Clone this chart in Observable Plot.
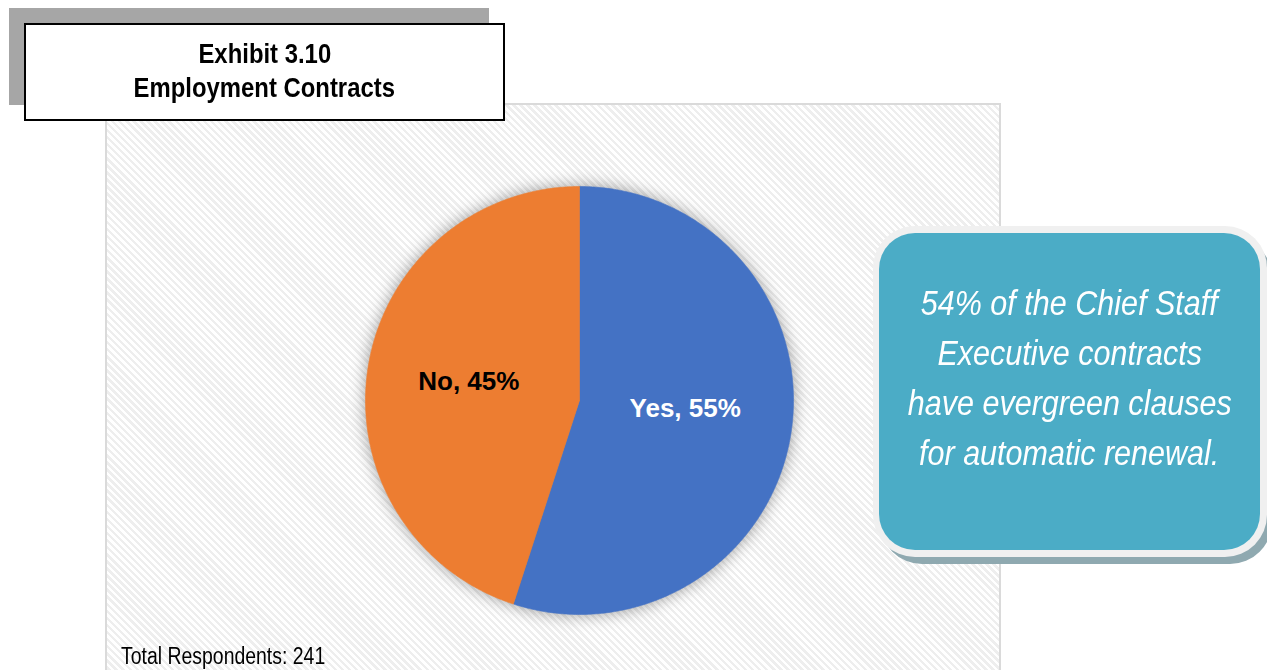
<!DOCTYPE html>
<html>
<head>
<meta charset="utf-8">
<script src="https://cdn.jsdelivr.net/npm/d3@7"></script>
<script src="https://cdn.jsdelivr.net/npm/@observablehq/plot@0.6"></script>
<style>
  html, body { margin: 0; padding: 0; background: #fff; }
  #page { position: relative; width: 1267px; height: 670px; overflow: hidden; font-family: "Liberation Sans", Arial, sans-serif; }
  #panel { position: absolute; left: 105px; top: 103px; width: 896px; height: 600px;
    border: 2px solid #dadada; box-sizing: border-box;
    background: repeating-linear-gradient(45deg, #ffffff 0px, #ffffff 2.5px, #eeeeee 2.5px, #eeeeee 5px); }
  #chart { position: absolute; left: 0; top: 0; }
  #chart svg [aria-label="line"] { filter: drop-shadow(0 0 8px rgba(0,0,0,0.38)); }
  #tshadow { position: absolute; left: 9px; top: 8px; width: 480px; height: 97px; background: #a6a6a6; }
  #tbox { position: absolute; left: 24px; top: 23px; width: 481px; height: 98px; box-sizing: border-box;
    border: 2px solid #000; background: #fff; text-align: center;
    font-family: "Liberation Sans", Arial, sans-serif; font-weight: bold; font-size: 28px; line-height: 34px; padding-top: 12px; color: #000; }
  .nar { display: inline-block; white-space: nowrap; transform-origin: center; }
  #tbox .nar { transform: scaleX(0.853); }
  #callout-shadow { position: absolute; left: 880px; top: 236px; width: 392px; height: 328px; border-radius: 42px; background: #8fa9b0; }
  #callout { position: absolute; left: 873px; top: 226px; width: 394px; height: 331px; border-radius: 42px; background: #f0f0f0; }
  #callout-inner { position: absolute; left: 879px; top: 233px; width: 381px; height: 317px; border-radius: 36px; background: #4bacc6;
    color: #fff; font-family: "Liberation Sans", Arial, sans-serif; font-style: italic; font-size: 35px; line-height: 50px;
    text-align: center; box-sizing: border-box; padding-top: 45px; }
  #callout-inner .nar { transform: scaleX(0.872); }
  #caption { position: absolute; left: 121px; top: 643px; font-family: "Liberation Sans", Arial, sans-serif; font-size: 23px; color: #000;
    white-space: nowrap; transform: scaleX(0.845); transform-origin: left center; }
</style>
</head>
<body>
<div id="page">
  <div id="panel"></div>
  <div id="chart"></div>
  <div id="tshadow"></div>
  <div id="tbox"></div>
  <div id="callout-shadow"></div>
  <div id="callout"></div>
  <div id="callout-inner"></div>
  <div id="caption"></div>
</div>
<script>
// ---- data ----
const categories = ["Yes", "No"];
const values = [55, 45];
const titleLines = ["Exhibit 3.10", "Employment Contracts"];
const calloutLines = ["54% of the Chief Staff", "Executive contracts", "have evergreen clauses", "for automatic renewal."];
const captionText = "Total Respondents: 241";

// ---- styles ----
const sliceColors = ["#4472c4", "#ed7d31"];
const labelColors = ["#ffffff", "#000000"];
const labelOffsets = [[0, -9], [-5, -2]];

// ---- text ----
document.getElementById("tbox").innerHTML = titleLines.map(s => `<div><span class="nar">${s}</span></div>`).join("");
document.getElementById("callout-inner").innerHTML = calloutLines.map(s => `<div><span class="nar">${s}</span></div>`).join("");
document.getElementById("caption").textContent = captionText;

// ---- pie geometry in data space (unit circle), clockwise from 12 o'clock ----
const arcs = d3.pie().sort(null).value(d => d)(values);
const points = [];
const labels = [];
arcs.forEach((a, i) => {
  const cat = categories[i];
  points.push({cat, x: 0, y: 0});
  const steps = Math.max(2, Math.ceil((a.endAngle - a.startAngle) / (Math.PI / 360)));
  for (let k = 0; k <= steps; k++) {
    const t = a.startAngle + (a.endAngle - a.startAngle) * k / steps;
    points.push({cat, x: Math.sin(t), y: Math.cos(t)});
  }
  points.push({cat, x: 0, y: 0});
  const mid = (a.startAngle + a.endAngle) / 2;
  labels.push({cat, x: 0.5 * Math.sin(mid), y: 0.5 * Math.cos(mid), text: `${cat}, ${values[i]}%`, i});
});

const cx = 579, cy = 400, r = 214;
const chart = Plot.plot({
  width: 1267,
  height: 670,
  margin: 0,
  style: {background: "transparent"},
  x: {domain: [-1, 1], range: [cx - r, cx + r], axis: null},
  y: {domain: [-1, 1], range: [cy + r, cy - r], axis: null},
  color: {domain: categories, range: sliceColors},
  marks: [
    Plot.line(points, {x: "x", y: "y", z: "cat", fill: "cat", stroke: "cat", strokeWidth: 0.6, curve: "linear"}),
    ...labels.map(l => Plot.text([l], {x: "x", y: "y", text: "text", fill: labelColors[l.i],
      dx: labelOffsets[l.i][0], dy: labelOffsets[l.i][1], fontSize: 26, fontWeight: "bold",
      fontFamily: "Liberation Sans, Arial, sans-serif", lineAnchor: "middle"}))
  ]
});
document.getElementById("chart").appendChild(chart);
</script>
</body>
</html>
